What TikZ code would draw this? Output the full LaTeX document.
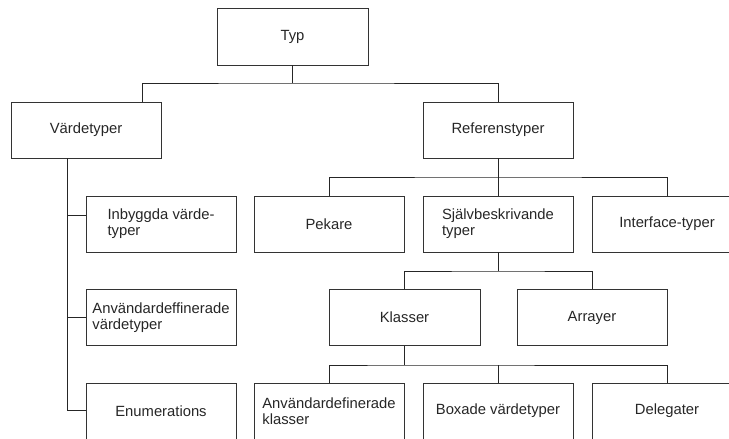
\documentclass[tikz,border=0pt]{standalone}
\usepackage{fontspec}
\setmainfont{Liberation Sans}
\begin{document}
\begin{tikzpicture}[x=1pt,y=-1pt,
  box/.style={draw=black!80, line width=0.9pt, minimum width=150pt, minimum height=56pt,
    inner sep=0pt, align=left, font=\fontsize{14.8}{16}\selectfont, text=black!85},
  link/.style={draw=black!85, line width=0.9pt}]
\useasboundingbox (0,0) rectangle (729,439);
\clip (0,0) rectangle (729,439);

% tree nodes
\node[box, minimum width=151pt, minimum height=57pt] (typ) at (292.5,36.5) {Typ};
\node[box] (vt)  at (86,130)   {Värdetyper};
\node[box] (ref) at (498,130)  {Referenstyper};

\node[box] (inb) at (161,224)   {Inbyggda värde-\\typer};
\node[box] (anv) at (161,317.5) {Användardeffinerade\\värdetyper};
\node[box] (enu) at (161,411)   {Enumerations};

\node[box] (pek) at (329,224) {Pekare};
\node[box] (sjb) at (498,224) {Självbeskrivande\\typer};
\node[box] (ifc) at (667,224) {Interface-typer};

\node[box, minimum width=151pt] (kla) at (404.5,317.5) {Klasser};
\node[box] (arr) at (592,317.5) {Arrayer};

\node[box] (adk) at (329,411) {Användardefinerade\\klasser};
\node[box] (box) at (498,411) {Boxade värdetyper};
\node[box] (del) at (667,411) {Delegater};

% junction points
\coordinate (j0) at (292.5,83);
\coordinate (j1) at (498,177);
\coordinate (j2) at (498,271);
\coordinate (j3) at (404.5,365);
\coordinate (vl) at (142,102);
\coordinate (vs) at (67,158);

% Typ -> Värdetyper / Referenstyper
\draw[link] (typ.south) -- (j0);
\draw[link] (vl) |- (j0) -| (ref.north);

% Värdetyper -> its three children (side rail)
\draw[link] (vs) |- (enu.west |- 0,410);
\draw[link] (vs |- 0,215) -- (inb.west |- 0,215);
\draw[link] (vs |- anv.west) -- (anv.west);

% Referenstyper -> Pekare / Självbeskrivande / Interface
\draw[link] (ref.south) -- (j1);
\draw[link] (pek.north) |- (j1) -| (ifc.north);
\draw[link] (j1) -- (sjb.north);

% Självbeskrivande -> Klasser / Arrayer
\draw[link] (sjb.south) -- (j2);
\draw[link] (kla.north) |- (j2) -| (arr.north);

% Klasser -> bottom row
\draw[link] (kla.south) -- (j3);
\draw[link] (adk.north) |- (j3) -| (del.north);
\draw[link] (j3 -| box.north) -- (box.north);
\end{tikzpicture}
\end{document}
